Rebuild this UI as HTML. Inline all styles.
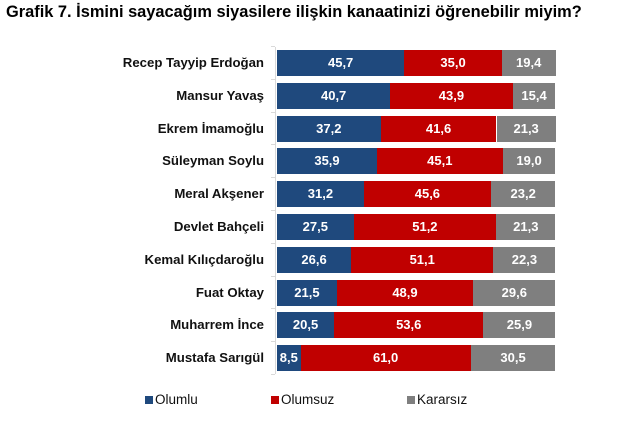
<!DOCTYPE html>
<html><head><meta charset="utf-8"><style>
body{margin:0;width:617px;height:433px;background:#fff;overflow:hidden;font-family:"Liberation Sans",Arial,sans-serif;position:relative}
.t{position:absolute;left:6px;top:3px;font-size:16.4px;font-weight:bold;color:#000;white-space:nowrap}
.l{position:absolute;right:353px;font-size:13.2px;font-weight:bold;color:#111;white-space:nowrap}
.b{position:absolute;height:26px;color:#fff;font-size:13px;font-weight:bold;text-align:center;line-height:26px;overflow:hidden}
.c1{background:#1f497d}.c2{background:#c00000}.c3{background:#7f7f7f}
.ax{position:absolute;left:275px;top:47px;width:1px;height:327px;background:#d9d9d9}
.tk{position:absolute;left:271px;width:4px;height:1px;background:#d9d9d9}
.lg{position:absolute;top:392px;font-size:13.5px;color:#111}
.lg i{display:inline-block;width:8px;height:8px;margin-right:2px;vertical-align:0px}
</style></head><body>
<div class="t">Grafik 7. İsmini sayacağım siyasilere ilişkin kanaatinizi öğrenebilir miyim?</div>
<div class="ax"></div>
<div id="c"></div>
<script>
var d=[["Recep Tayyip Erdoğan",45.7,35.0,19.4],["Mansur Yavaş",40.7,43.9,15.4],["Ekrem İmamoğlu",37.2,41.6,21.3],["Süleyman Soylu",35.9,45.1,19.0],["Meral Akşener",31.2,45.6,23.2],["Devlet Bahçeli",27.5,51.2,21.3],["Kemal Kılıçdaroğlu",26.6,51.1,22.3],["Fuat Oktay",21.5,48.9,29.6],["Muharrem İnce",20.5,53.6,25.9],["Mustafa Sarıgül",8.5,61.0,30.5]];
var h="",x0=277,W=278.5;
for(var i=0;i<d.length;i++){var y=50+i*32.8;var r=d[i];
h+='<div class="l" style="top:'+(y+5)+'px">'+r[0]+'</div>';
var x=x0;for(var j=1;j<4;j++){var w=r[j]/100*W;h+='<div class="b c'+j+'" style="left:'+x.toFixed(1)+'px;top:'+y.toFixed(1)+'px;width:'+w.toFixed(1)+'px">'+r[j].toFixed(1).replace(".",",")+'</div>';x+=w;}
h+='<div class="tk" style="top:'+(y-4).toFixed(1)+'px"></div>';}
h+='<div class="tk" style="top:374px"></div>';
document.getElementById("c").innerHTML=h;
</script>
<div class="lg" style="left:145px"><i style="background:#1f497d"></i>Olumlu</div>
<div class="lg" style="left:271px"><i style="background:#c00000"></i>Olumsuz</div>
<div class="lg" style="left:407px"><i style="background:#7f7f7f"></i>Kararsız</div>
</body></html>
